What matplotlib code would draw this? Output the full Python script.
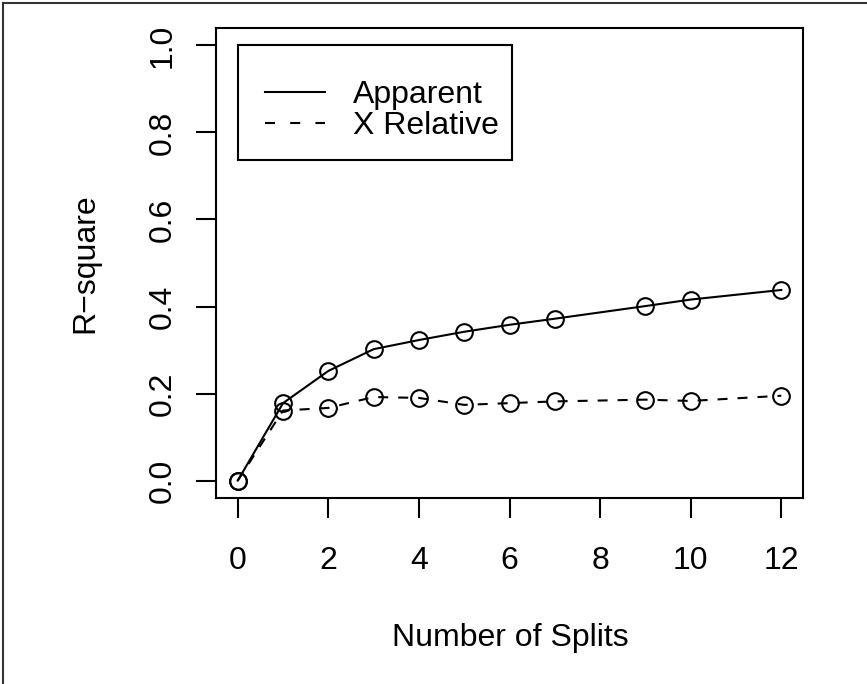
import matplotlib
matplotlib.use("Agg")
import matplotlib.pyplot as plt
from matplotlib.lines import Line2D
from matplotlib.patches import Rectangle

plt.rcParams['font.family'] = ['Liberation Sans', 'DejaVu Sans']

# r-square by number of splits
splits = [0, 1, 2, 3, 4, 5, 6, 7, 9, 10, 12]
apparent = [0.0, 0.178, 0.252, 0.302, 0.323, 0.342, 0.358, 0.372, 0.401, 0.416, 0.438]
x_relative = [0.0, 0.161, 0.167, 0.192, 0.190, 0.174, 0.178, 0.182, 0.186, 0.183, 0.195]
x_ticks = [0, 2, 4, 6, 8, 10, 12]
y_ticks = [0.0, 0.2, 0.4, 0.6, 0.8, 1.0]

W, H = 867, 684
FS = 23

fig = plt.figure(figsize=(W / 100, H / 100), dpi=100)
ax = fig.add_axes([216 / W, 1 - 498 / H, 587 / W, 470 / H])

# dash lengths are in units of the line width
ax.plot(splits, apparent, color='black', lw=1.5, marker='o', ms=12,
        mfc='none', mec='black', mew=1.5)
ax.plot(splits, x_relative, color='black', lw=1.5, dashes=(4.8, 4.8), marker='o',
        ms=12, mfc='none', mec='black', mew=1.5)

ax.set_xlim(-0.48, 12.48)
ax.set_ylim(-0.04, 1.04)
ax.set_xticks(x_ticks)
ax.set_xticklabels([str(t) for t in x_ticks])
ax.set_yticks(y_ticks)
ax.set_yticklabels(['%.1f' % t for t in y_ticks], rotation=90, va='center')
ax.tick_params(axis='both', length=14.4, width=1.5, labelsize=FS)
ax.tick_params(axis='x', pad=20.5)
ax.tick_params(axis='y', pad=13)
for sp in ax.spines.values():
    sp.set_linewidth(1.5)

# axis titles placed by baseline
fig.text(510 / W, 1 - 646 / H, 'Number of Splits', fontsize=FS,
         ha='center', va='baseline')
fig.text(93 / W, 1 - 263 / H, 'R\u2212square', fontsize=FS, rotation=90,
         rotation_mode='anchor', ha='center', va='baseline')

# legend: frame box plus line keys
ax.add_patch(Rectangle((238 / W, 1 - 160 / H), 274 / W, 115 / H,
                       transform=fig.transFigure, fill=False,
                       edgecolor='black', lw=1.5, zorder=5))
handles = [Line2D([], [], color='black', lw=1.5),
           Line2D([], [], color='black', lw=1.5, dashes=(4.8, 7.3))]
leg = ax.legend(handles, ['Apparent', 'X Relative'], loc='center left',
                bbox_to_anchor=((265 - 216) / 587, (498 - 110.5) / 470),
                borderaxespad=0, borderpad=0, fontsize=FS, frameon=False,
                handlelength=1.875, handletextpad=0.875, labelspacing=0.04)

# image border on the top and left edges
fig.add_artist(Line2D([3 / W, 3 / W], [0, 1 - 3 / H], color='#333333', lw=1.5))
fig.add_artist(Line2D([3 / W, 1], [1 - 3 / H, 1 - 3 / H], color='#333333', lw=1.5))

fig.savefig('out.png', dpi=100)
